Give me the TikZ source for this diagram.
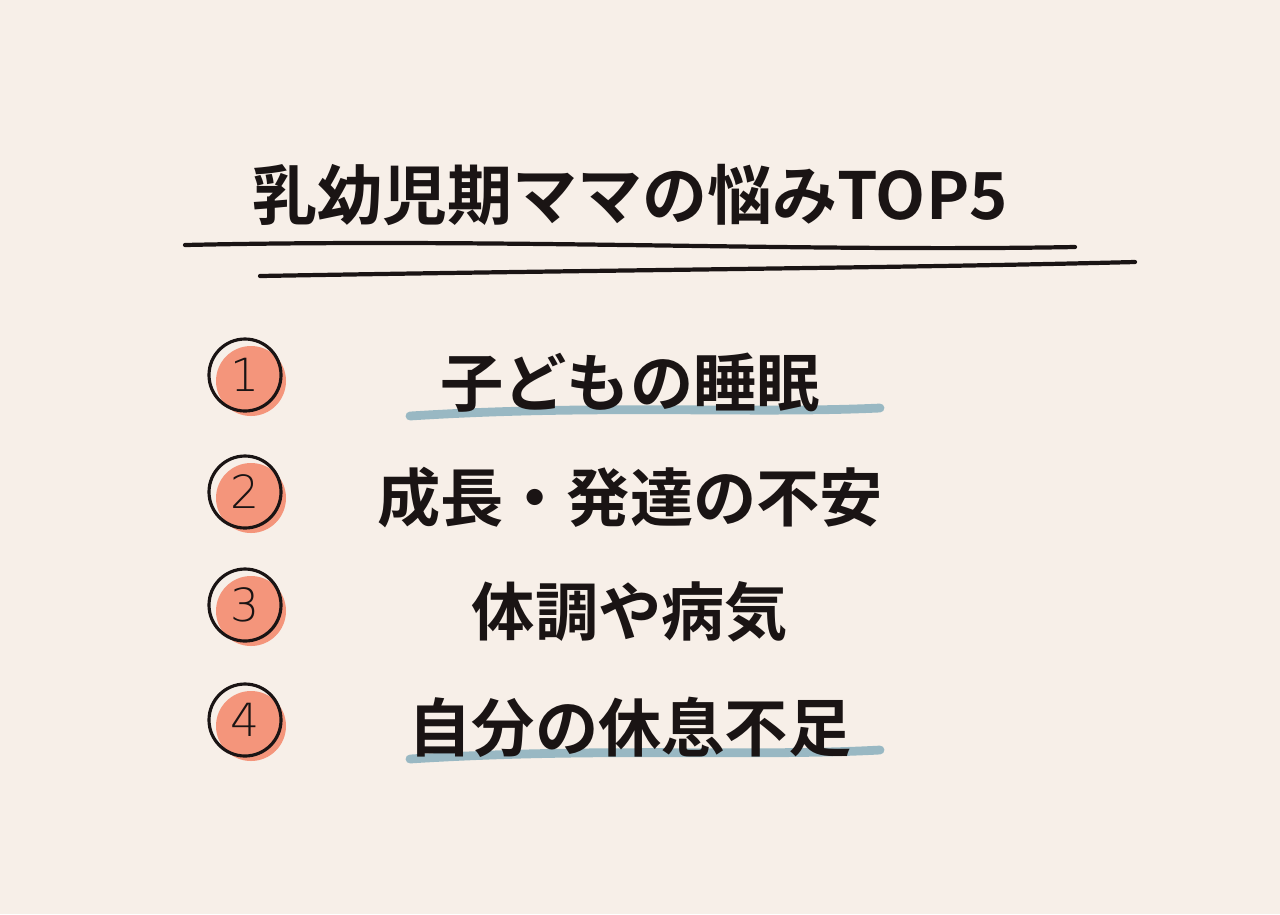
\documentclass[tikz,border=0pt]{standalone}
\usepackage{fontspec}
\newfontfamily\jpfont{Noto Sans CJK JP Bold}
\newfontfamily\numfont{DejaVu Sans ExtraLight}
\definecolor{paper}{HTML}{F7EFE8}
\definecolor{salmon}{HTML}{F4957B}
\definecolor{brush}{HTML}{8FB3BF}
\definecolor{ink}{HTML}{1A1414}
\begin{document}
\begin{tikzpicture}[x=0.02cm, y=-0.02cm,
    item/.style={font=\jpfont\fontsize{36}{40}\selectfont, text=ink, anchor=center},
    badge/.style={draw=ink, line width=1.8pt, circle, minimum size=72*0.02cm, inner sep=0pt,
                  font=\numfont\fontsize{26}{26}\selectfont, text=ink},
    shade/.style={fill=salmon, circle, minimum size=70*0.02cm, inner sep=0pt},
    rule/.style={draw=ink, line width=2.4pt, line cap=round},
    stroke/.style={draw=brush, line width=5pt, line cap=round, opacity=0.9},
]
    % background
    \fill[paper] (0,0) rectangle (1280,914);

    % title and rules
    \node[item, font=\jpfont\fontsize{37}{40}\selectfont] (title) at (630,195) {乳幼児期ママの悩みTOP5};
    \coordinate (r1a) at (185,245);
    \coordinate (r1b) at (1075,247);
    \coordinate (r2a) at (260,276);
    \coordinate (r2b) at (1135,262);
    \draw[rule] (r1a) .. controls (500,238) and (800,252) .. (r1b);
    \draw[rule] (r2a) .. controls (600,270) and (900,268) .. (r2b);

    % brush strokes
    \coordinate (b1a) at (410,416);
    \coordinate (b1b) at (880,408);
    \coordinate (b4a) at (410,759);
    \coordinate (b4b) at (880,750);
    \draw[stroke] (b1a) .. controls (600,404) and (750,414) .. (b1b);
    \draw[stroke] (b4a) .. controls (600,747) and (750,757) .. (b4b);

    % badges
    \foreach \n/\y in {1/375, 2/492, 3/605, 4/720}{
        \node[shade] (s\n) at (251,\y+6) {};
        \node[badge] (c\n) at (245,\y) {\n};
    }

    % items
    \node[item] (i1) at (630,383) {子どもの睡眠};
    \node[item] (i2) at (630,498) {成長・発達の不安};
    \node[item] (i3) at (630,612) {体調や病気};
    \node[item] (i4) at (630,727) {自分の休息不足};
\end{tikzpicture}
\end{document}
